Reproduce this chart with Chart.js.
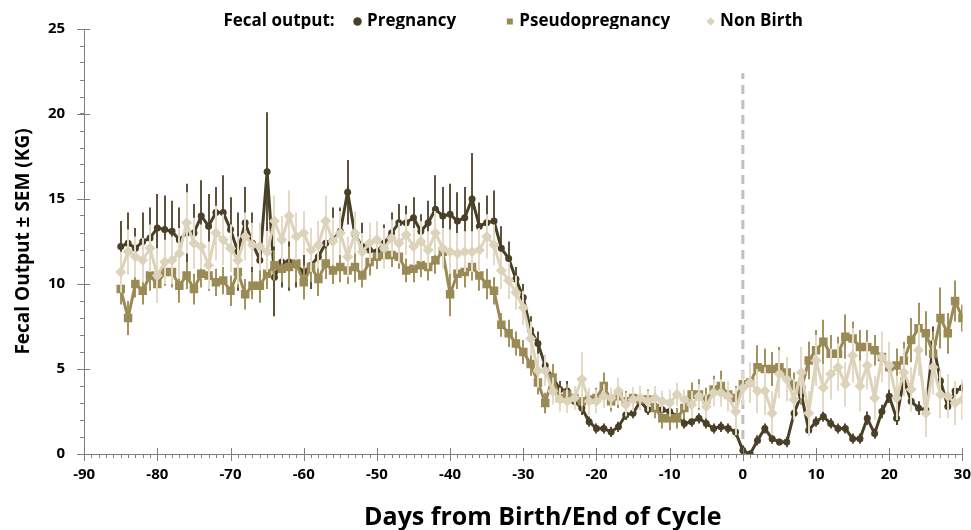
<!DOCTYPE html>
<html>
<head>
<meta charset="utf-8">
<title>Fecal output</title>
<script src="https://cdn.jsdelivr.net/npm/chart.js@4.4.1/dist/chart.umd.min.js"></script>
<style>
  html, body { margin: 0; padding: 0; background: #fff; }
  #wrap { width: 971px; height: 530px; position: relative; }
</style>
</head>
<body>
<div id="wrap"><canvas id="chart"></canvas></div>
<script>
"use strict";

// days from birth / end of cycle
var days = [
  -85,-84,-83,-82,-81,-80,-79,-78,-77,-76,-75,-74,-73,-72,-71,-70,-69,
  -68,-67,-66,-65,-64,-63,-62,-61,-60,-59,-58,-57,-56,-55,-54,-53,-52,-51,-50,-49,-48,-47,
  -46,-45,-44,-43,-42,-41,-40,-39,-38,-37,-36,-35,-34,-33,-32,-31,-30,
  -29,-28,-27,-26,-25,-24,-23,-22,-21,-20,-19,-18,-17,-16,-15,-14,-13,-12,-11,-10,-9,-8,-7,-6,-5,-4,-3,-2,-1,
  0,1,2,3,4,5,6,7,8,9,10,11,12,13,14,15,16,17,18,19,20,21,22,23,24,25,26,27,28,29,30
];

var pregnancy = [
  12.2,12.4,12.1,12.5,12.7,13.3,13.2,13.1,12.6,13.0,13.0,14.0,13.4,14.2,14.2,13.2,11.9,
  13.6,12.4,11.4,16.6,10.4,11.3,11.3,11.1,10.7,11.1,11.6,12.4,12.6,13.1,15.4,12.9,12.2,12.0,11.9,12.4,13.0,13.6,
  13.6,13.9,13.1,13.6,14.4,14.0,14.1,13.7,13.9,15.0,13.4,13.6,13.7,12.1,11.5,10.3,9.2,
  7.3,6.5,5.2,4.5,3.8,3.7,3.1,2.7,1.9,1.5,1.5,1.3,1.6,2.3,2.4,3.1,2.6,2.8,2.6,2.5,2.2,1.8,1.9,2.1,1.8,1.5,1.6,1.5,1.3,
  0.2,0.0,0.8,1.5,0.9,0.7,0.7,2.4,3.5,1.4,1.9,2.2,1.8,1.5,1.5,0.9,0.9,2.1,1.2,2.5,3.4,2.1,4.4,3.1,2.7,2.6,6.5,4.3,2.8,3.7,3.9
];
var pregnancySem = [
  1.5,1.8,1.2,1.7,1.8,2.0,2.0,1.8,1.9,2.9,1.7,2.1,1.9,1.5,2.2,1.9,2.3,
  2.1,1.8,1.5,3.5,2.3,1.5,1.7,1.3,1.6,1.4,1.5,1.6,1.9,1.4,1.9,1.3,1.4,1.2,1.0,1.1,1.2,1.1,
  1.0,1.2,1.0,1.3,2.0,1.7,1.8,1.7,1.8,2.7,1.4,1.6,1.8,1.3,1.0,0.7,0.8,
  0.8,0.7,0.6,0.6,0.5,0.6,0.4,0.4,0.3,0.3,0.3,0.3,0.3,0.3,0.3,0.4,0.3,0.4,0.4,0.4,0.3,0.3,0.3,0.3,0.3,0.3,0.3,0.3,0.3,
  0.3,0.2,0.3,0.3,0.3,0.2,0.3,0.4,0.5,0.3,0.3,0.3,0.3,0.3,0.3,0.3,0.3,0.4,0.3,0.4,0.4,0.4,0.6,0.4,0.4,0.4,1.0,0.6,0.3,0.3,0.3
];

var pseudopregnancy = [
  9.7,8.0,10.0,9.6,10.5,10.0,10.7,10.7,9.9,10.5,9.7,10.6,10.5,10.1,10.2,9.6,10.7,
  9.4,9.9,9.9,10.6,11.1,10.9,11.0,11.2,10.1,11.0,10.3,11.2,10.8,11.0,10.8,11.0,10.5,11.3,11.6,11.7,11.7,11.6,
  10.8,10.9,11.1,11.0,11.4,11.9,9.4,10.6,10.7,11.0,10.5,10.0,9.6,7.6,7.1,6.5,6.0,
  5.3,4.2,3.0,4.5,3.3,3.5,3.3,3.1,3.2,3.3,4.0,3.1,3.4,3.1,3.3,3.2,3.2,2.7,2.1,2.1,2.1,2.7,3.5,3.5,3.2,3.8,4.0,3.5,3.3,
  4.1,4.2,5.1,5.0,5.0,5.1,4.8,4.0,3.8,5.5,6.1,6.6,5.9,5.9,6.9,6.8,6.3,6.3,6.1,5.7,5.1,5.2,5.5,6.7,7.4,7.1,5.9,8.0,7.1,9.0,8.0
];
var pseudopregnancySem = [
  0.9,1.0,0.8,0.8,0.9,0.9,0.8,0.9,1.0,0.8,0.9,0.8,0.9,0.8,0.8,0.9,0.9,
  0.9,0.8,1.0,0.9,0.9,0.8,1.2,1.1,1.0,0.9,1.0,0.9,0.8,0.9,0.8,0.9,0.7,0.8,0.7,0.6,0.7,0.7,
  0.7,0.8,0.7,0.8,0.8,0.9,1.3,0.9,0.9,0.8,0.9,0.9,0.8,0.7,0.8,0.7,0.7,
  0.7,0.7,0.6,0.8,0.6,0.6,0.6,0.6,0.6,0.6,0.8,0.6,0.7,0.6,0.6,0.6,0.6,0.6,0.6,0.7,0.6,0.6,0.7,0.9,0.7,0.8,0.9,0.8,0.7,
  0.8,1.0,1.3,1.2,1.0,1.2,0.9,0.8,0.9,1.1,1.2,1.3,1.1,1.0,1.3,1.0,1.0,1.0,0.9,1.0,1.0,1.0,1.1,1.3,1.5,1.3,1.3,1.8,1.2,1.2,0.8
];

var nonBirth = [
  10.7,11.9,11.6,11.4,12.1,10.5,11.3,11.4,11.8,13.6,12.4,12.2,11.1,13.0,12.6,12.1,11.4,
  12.8,12.3,12.2,11.9,13.7,12.6,14.0,12.8,13.0,12.0,12.3,13.7,12.5,13.0,11.6,13.0,11.9,12.4,12.6,12.1,12.7,12.4,
  12.9,12.2,12.5,12.0,13.0,12.1,11.9,11.8,11.9,11.9,12.0,12.8,12.3,10.8,10.2,9.5,8.6,
  6.8,4.9,4.9,3.7,3.2,3.1,3.3,4.4,3.1,3.1,3.4,3.3,3.7,2.9,3.2,3.3,3.1,3.3,3.1,3.0,3.5,3.2,2.9,3.4,2.8,3.6,3.6,3.4,2.5,
  3.9,4.2,3.7,3.7,2.4,4.7,4.4,3.2,4.8,2.4,5.5,3.9,4.7,5.1,4.1,5.8,4.0,5.2,3.3,5.7,5.2,3.3,4.8,3.8,6.1,2.4,5.1,3.5,3.4,3.0,3.2
];
var nonBirthSem = [
  1.2,1.3,1.2,1.3,1.4,1.6,1.3,1.4,1.5,1.8,1.5,1.3,1.4,1.6,1.5,1.4,1.4,
  1.4,1.3,1.4,1.2,1.5,1.4,1.5,1.4,1.3,1.3,1.4,1.5,1.4,1.3,1.2,1.2,1.1,1.2,1.1,1.2,1.1,1.2,
  1.2,1.1,1.2,1.1,1.3,1.2,1.3,1.2,1.2,1.2,1.3,1.3,1.2,1.1,1.1,1.0,1.0,
  1.0,1.0,0.9,0.8,0.7,0.7,0.7,1.6,0.8,0.7,0.7,0.6,0.8,0.7,0.7,0.7,0.6,0.7,0.6,0.8,0.7,0.6,0.8,0.7,0.7,0.8,0.8,0.9,1.4,
  1.0,1.2,1.3,1.4,1.3,1.4,1.3,1.2,1.5,1.3,1.5,1.4,1.5,1.4,1.3,1.6,1.5,1.4,1.3,1.5,1.4,1.3,1.4,1.3,1.5,1.4,1.6,1.4,1.3,1.3,1.2
];

// vertical marker at birth / end of cycle
var markerDay = 0;
var markerTop = 22.4;

var xTickMin = -90, xTickMax = 30, xMajor = 10;
var yTickMin = 0, yTickMax = 25, yMajor = 5;

var FONT = "'Open Sans', sans-serif";
var NB = '\u00a0';

function points(vals) {
  return days.map(function(d, i) { return {x: d, y: vals[i]}; });
}

// SEM whiskers, drawn under each series
var errorBars = {
  id: 'errorBars',
  beforeDatasetDraw: function(chart, args) {
    var ds = chart.data.datasets[args.index];
    if (!ds.sem) return;
    var ctx = chart.ctx, x = chart.scales.x, y = chart.scales.y, area = chart.chartArea;
    ctx.save();
    ctx.beginPath();
    ctx.rect(area.left, area.top, area.right - area.left, area.bottom - area.top);
    ctx.clip();
    ctx.strokeStyle = ds.errColor;
    ctx.lineWidth = 2;
    ctx.beginPath();
    ds.data.forEach(function(p, i) {
      var px = Math.round(x.getPixelForValue(p.x));
      ctx.moveTo(px, y.getPixelForValue(p.y - ds.sem[i]));
      ctx.lineTo(px, y.getPixelForValue(p.y + ds.sem[i]));
    });
    ctx.stroke();
    ctx.restore();
  }
};

// axis tick marks: short minor ticks under the x axis, longer crossing ones at labels
var axisTicks = {
  id: 'axisTicks',
  afterDraw: function(chart) {
    var ctx = chart.ctx, x = chart.scales.x, y = chart.scales.y, area = chart.chartArea;
    ctx.save();
    ctx.strokeStyle = '#7f7f7f';
    ctx.lineWidth = 1;
    ctx.beginPath();
    x.ticks.forEach(function(t) {
      var px = Math.round(x.getPixelForValue(t.value)) + 0.5;
      if (t.value % xMajor === 0) {
        ctx.moveTo(px, area.bottom - 6);
        ctx.lineTo(px, area.bottom + 7);
      } else {
        ctx.moveTo(px, area.bottom);
        ctx.lineTo(px, area.bottom + 4);
      }
    });
    y.ticks.forEach(function(t) {
      if (t.value % yMajor !== 0) return;
      var py = Math.round(y.getPixelForValue(t.value)) + 0.5;
      ctx.moveTo(area.left - 7, py);
      ctx.lineTo(area.left + 6, py);
    });
    ctx.stroke();
    ctx.restore();
  }
};

var config = {
  type: 'line',
  data: {
    datasets: [
      {
        label: 'Pregnancy',
        data: points(pregnancy),
        sem: pregnancySem,
        errColor: '#5d523c',
        borderColor: '#4a3f27',
        backgroundColor: '#4a3f27',
        borderWidth: 3,
        pointStyle: 'circle',
        pointRadius: 3.5,
        pointBorderWidth: 0,
        order: 3
      },
      {
        label: 'Pseudopregnancy',
        data: points(pseudopregnancy),
        sem: pseudopregnancySem,
        errColor: '#a3945f',
        borderColor: '#9a8a55',
        backgroundColor: '#9a8a55',
        borderWidth: 3,
        pointStyle: 'rect',
        pointRadius: 6,
        pointBorderWidth: 0,
        order: 2
      },
      {
        label: 'Non Birth',
        data: points(nonBirth),
        sem: nonBirthSem,
        errColor: '#e4dbc7',
        borderColor: '#ddd3bb',
        backgroundColor: '#ddd3bb',
        borderWidth: 3,
        pointStyle: 'rectRot',
        pointRadius: 5.5,
        pointBorderWidth: 0,
        order: 1
      },
      {
        label: '',
        data: [{x: markerDay, y: 0}, {x: markerDay, y: markerTop}],
        borderColor: '#bfbfbf',
        borderWidth: 3,
        borderDash: [9, 6],
        pointRadius: 0,
        order: 4
      }
    ]
  },
  options: {
    responsive: true,
    maintainAspectRatio: false,
    animation: false,
    layout: { padding: { left: 14, right: 0, top: 0, bottom: 0 } },
    plugins: {
      tooltip: { enabled: false },
      legend: {
        position: 'top',
        maxHeight: 29,
        labels: {
          usePointStyle: true,
          boxWidth: 2,
          boxHeight: 6,
          padding: 13,
          color: '#000',
          font: { family: FONT, size: 17, weight: 'bold' },
          generateLabels: function(chart) {
            var gaps = [NB.repeat(9), NB.repeat(6), ''];
            var items = Chart.defaults.plugins.legend.labels.generateLabels(chart)
              .filter(function(it) { return it.text; })
              .sort(function(a, b) { return a.datasetIndex - b.datasetIndex; });
            items.forEach(function(it, i) { it.text = it.text + gaps[i]; });
            return [{
              text: NB.repeat(7) + 'Fecal output:' + NB.repeat(2),
              fillStyle: 'rgba(0,0,0,0)',
              strokeStyle: 'rgba(0,0,0,0)',
              lineWidth: 0,
              pointStyle: 'circle',
              hidden: false,
              fontColor: '#000'
            }].concat(items);
          }
        }
      }
    },
    scales: {
      x: {
        type: 'linear',
        min: xTickMin,
        max: xTickMax,
        border: { color: '#7f7f7f', width: 1 },
        grid: { drawOnChartArea: false, tickLength: 12, tickColor: 'rgba(0,0,0,0)' },
        ticks: {
          stepSize: 1,
          autoSkip: false,
          maxRotation: 0,
          color: '#000',
          padding: 0,
          font: { family: FONT, size: 15, weight: 'bold' },
          callback: function(v) { return v % xMajor === 0 ? v : ''; }
        },
        title: {
          display: true,
          text: NB.repeat(6) + 'Days from Birth/End of Cycle',
          color: '#000',
          padding: { top: 21, bottom: 0 },
          font: { family: FONT, size: 25, weight: 'bold', lineHeight: 1 }
        }
      },
      y: {
        min: yTickMin,
        max: yTickMax,
        border: { color: '#7f7f7f', width: 1 },
        grid: { drawOnChartArea: false, tickLength: 4, color: '#7f7f7f' },
        ticks: {
          stepSize: 1,
          autoSkip: false,
          color: '#000',
          padding: 15,
          font: { family: FONT, size: 15, weight: 'bold' },
          callback: function(v) { return v % yMajor === 0 ? v : ''; }
        },
        title: {
          display: true,
          text: 'Fecal Output \u00b1 SEM (KG)',
          color: '#000',
          padding: { top: 0, bottom: 0 },
          font: { family: FONT, size: 19, weight: 'bold', lineHeight: 1 }
        }
      }
    }
  },
  plugins: [errorBars, axisTicks]
};

window.addEventListener('load', function() {
  var ctx = document.getElementById('chart').getContext('2d');
  window.fecalChart = new Chart(ctx, config);
});
</script>
</body>
</html>
